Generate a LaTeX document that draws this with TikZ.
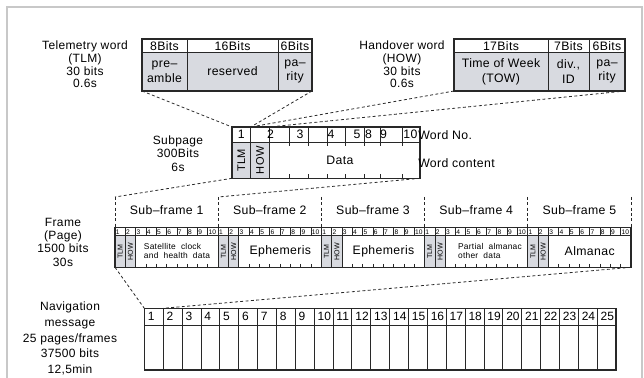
\documentclass[tikz,border=0pt]{standalone}
\usepackage{fontspec}
\setmainfont{Liberation Sans}[LetterSpace=3]
\newfontfamily\numfont{Liberation Sans}
\definecolor{tgray}{RGB}{216,218,224}
\definecolor{frgray}{RGB}{200,200,200}
\definecolor{ink}{RGB}{40,40,40}
\begin{document}
\begin{tikzpicture}[x=0.75pt,y=-0.75pt,
  box/.style={draw=ink,line width=0.8pt},
  thin/.style={draw=ink,line width=0.6pt},
  conn/.style={draw=ink,line width=0.6pt,dash pattern=on 2.2pt off 1.8pt},
  lbl/.style={align=center,inner sep=0pt,font=\fontsize{9}{9.6}\selectfont},
  txt/.style={align=center,inner sep=0pt,font=\fontsize{9.2}{9.2}\selectfont},
  rtxt/.style={rotate=90,inner sep=0pt,font=\fontsize{8.3}{8.3}\selectfont},
  tiny/.style={anchor=west,inner sep=0pt,font=\numfont\fontsize{5}{5}\selectfont},
  trot/.style={rotate=90,inner sep=0pt,font=\fontsize{5.3}{5.3}\selectfont},
  small/.style={align=left,inner sep=0pt,font=\fontsize{6.3}{6.9}\selectfont},
  navnum/.style={anchor=west,inner sep=0pt,font=\numfont\fontsize{9}{9}\selectfont}]
\useasboundingbox (0,0) rectangle (644,378);
% outer gray frame
\draw[frgray,line width=1.4pt] (7,380) -- (7,7) -- (642,7) -- (642,380);

% ---------- TLM word ----------
\fill[tgray] (142,52) rectangle (312,91);
\draw[box] (142,39) rectangle (312,91);
\draw[thin] (142,52) -- (312,52) (187,39) -- (187,91) (278,39) -- (278,91);
\coordinate (tlmBL) at (142,91);
\coordinate (tlmBR) at (312,91);
\node[txt] (t8) at (164.5,46) {8Bits};
\node[txt] (t16) at (232.5,46) {16Bits};
\node[txt] (t6) at (295,46) {6Bits};
\node[txt,font=\fontsize{9.2}{11}\selectfont] (tpre) at (164.5,71.5) {pre--\\amble};
\node[txt] (tres) at (232.5,71.5) {reserved};
\node[txt,font=\fontsize{9.2}{11}\selectfont] (tpar) at (295,71.5) {pa--\\rity};
\node[lbl,font=\fontsize{9}{9.6}\selectfont] (tlmlbl) at (85,64.5) {Telemetry word\\(TLM)\\30 bits\\0.6s};

% ---------- HOW word ----------
\fill[tgray] (454,52) rectangle (625,91);
\draw[box] (454,39) rectangle (625,91);
\draw[thin] (454,52) -- (625,52) (548,39) -- (548,91) (589,39) -- (589,91);
\coordinate (howBL) at (454,91);
\coordinate (howBR) at (625,91);
\node[txt] (h17) at (501,46) {17Bits};
\node[txt] (h7) at (568.5,46) {7Bits};
\node[txt] (h6) at (607,46) {6Bits};
\node[txt,font=\fontsize{9.2}{11}\selectfont] (htow) at (501,71.5) {Time of Week\\(TOW)};
\node[txt,font=\fontsize{9.2}{11}\selectfont] (hdiv) at (568.5,71.5) {div.,\\ID};
\node[txt,font=\fontsize{9.2}{11}\selectfont] (hpar) at (607,71.5) {pa--\\rity};
\node[lbl] (howlbl) at (402,64.5) {Handover word\\(HOW)\\30 bits\\0.6s};

% ---------- Subpage ----------
\fill[tgray] (232,142) rectangle (269.3,178.3);
\draw[box] (232,127) rectangle (420,178.3);
\draw[thin] (232,142) -- (420,142) (250.7,127) -- (250.7,178.3) (269.3,127) -- (269.3,178.3);
\foreach \x in {289.3,308.8,327,345,364,380,402.5}{
  \draw[thin] (\x,127) -- (\x,146) (\x,174.3) -- (\x,178.3);
}
\coordinate (spTL) at (232,127);
\coordinate (spT2) at (250.7,127);
\coordinate (spT3) at (269.3,127);
\coordinate (spBL) at (232,178.3);
\coordinate (spBR) at (420,178.3);
\node[txt] (w1) at (241.3,134.5) {1};
\node[txt] (w2) at (270.5,134.5) {2};
\node[txt] (w3) at (300,134.5) {3};
\node[txt] (w4) at (331,134.5) {4};
\node[txt] (w5) at (357,134.5) {5};
\node[txt] (w8) at (368.5,134.5) {8};
\node[txt] (w9) at (383.5,134.5) {9};
\node[txt] (w10) at (410.5,134.5) {10};
\node[rtxt] (sptlm) at (241.3,160.2) {TLM};
\node[rtxt] (sphow) at (260,160.2) {HOW};
\node[txt] (spdata) at (340,160.2) {Data};
\node[txt,anchor=west] (wno) at (418,135) {Word No.};
\node[txt,anchor=west] (wct) at (418,163) {Word content};
\node[lbl,font=\fontsize{9}{10.1}\selectfont] (splbl) at (178,153.5) {Subpage\\300Bits\\6s};

% ---------- Frame ----------
\foreach \s in {0,...,4}{
  \pgfmathsetmacro{\xa}{115+\s*103.2}
  \fill[tgray] (\xa,235.7) rectangle ({\xa+20.64},267.3);
}
\draw[box] (115,227.7) rectangle (631,267.3);
\draw[thin] (115,235.7) -- (631,235.7);
\foreach \s in {0,...,4}{
  \pgfmathsetmacro{\xa}{115+\s*103.2}
  \draw[thin] (\xa,227.7) -- (\xa,267.3) ({\xa+10.32},227.7) -- ({\xa+10.32},267.3)
              ({\xa+20.64},227.7) -- ({\xa+20.64},267.3);
  \foreach \k in {3,...,9}{
    \draw[thin] ({\xa+\k*10.32},227.7) -- ({\xa+\k*10.32},235.7)
                ({\xa+\k*10.32},264) -- ({\xa+\k*10.32},267.3);
  }
  \foreach \k in {1,...,10}{
    \node[tiny] (fn\s-\k) at ({\xa+(\k-1)*10.32+0.6},231.9) {\k};
  }
  \node[trot] (ftlm\s) at ({\xa+5.16},251.5) {TLM};
  \node[trot] (fhow\s) at ({\xa+15.48},251.5) {HOW};
  \node[txt] (sfl\s) at ({\xa+51.6},210) {Sub--frame \the\numexpr\s+1\relax};
}
\foreach \s in {0,...,5}{
  \pgfmathsetmacro{\xa}{115+\s*103.2}
  \coordinate (sfT\s) at (\xa,197);
  \coordinate (sfB\s) at (\xa,227.7);
  \draw[conn] (sfT\s) -- (sfB\s);
}
\node[small] (c1) at (177,251.3) {Satellite\ \ clock\\and\ \ health\ \ data};
\node[txt] (c2) at (280.3,251.5) {Ephemeris};
\node[txt] (c3) at (383.5,251.5) {Ephemeris};
\node[small] (c4) at (490,251.3) {Partial\ \ almanac\\other\ \ data};
\node[txt] (c5) at (589.7,251.5) {Almanac};
\coordinate (frBL) at (115,267.3);
\coordinate (frBR) at (631,267.3);
\node[lbl,font=\fontsize{9}{10}\selectfont] (frlbl) at (63,242) {Frame\\(Page)\\1500 bits\\30s};

% ---------- Navigation message ----------
\draw[box] (144.3,308.3) rectangle (616,370);
\draw[thin] (144.3,325) -- (616,325);
\foreach \k in {1,...,24}{
  \draw[thin] ({144.3+\k*18.87},308.3) -- ({144.3+\k*18.87},370);
}
\foreach \k in {1,...,25}{
  \node[navnum] (nv\k) at ({144.3+(\k-1)*18.87+3.2},316.8) {\k};
}
\coordinate (nvTL) at (144.3,308.3);
\coordinate (nvT1) at (163.2,308.3);
\node[lbl,font=\fontsize{9}{11.8}\selectfont] (navlbl) at (70,338.5) {Navigation\\message\\25 pages/frames\\37500 bits\\12,5min};

% ---------- dashed connectors ----------
\draw[conn] (tlmBL) -- (spTL);
\draw[conn] (tlmBR) -- (spT2);
\draw[conn] (howBL) -- (spT2);
\draw[conn] (howBR) -- (spT3);
\draw[conn] (spBL) -- (sfT0);
\draw[conn] (spBR) -- (sfT1);
\draw[conn] (frBL) -- (nvTL);
\draw[conn] (frBR) -- (nvT1);
\end{tikzpicture}
\end{document}
